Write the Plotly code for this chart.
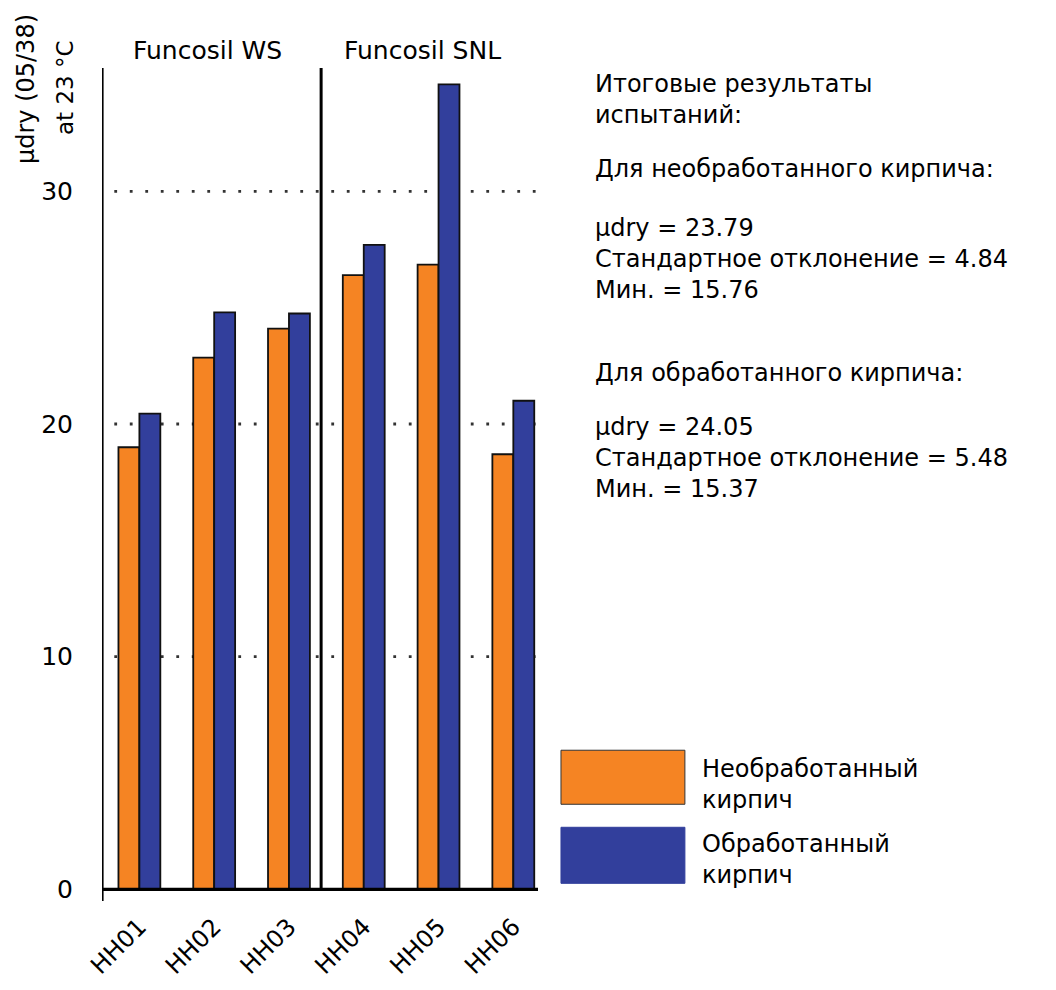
import plotly.graph_objects as go

# ---- data ----
samples = ["HH01", "HH02", "HH03", "HH04", "HH05", "HH06"]
untreated = [19.0, 22.85, 24.1, 26.4, 26.85, 18.7]
treated = [20.45, 24.8, 24.75, 27.7, 34.6, 21.0]
series_names = ["Необработанный<br>кирпич", "Обработанный<br>кирпич"]
y_ticks = [0, 10, 20, 30]
groups = ["Funcosil WS", "Funcosil SNL"]
summary_blocks = [
    ["Итоговые результаты", "испытаний:"],
    ["Для необработанного кирпича:"],
    ["μdry = 23.79", "Стандартное отклонение = 4.84", "Мин. = 15.76"],
    ["Для обработанного кирпича:"],
    ["μdry = 24.05", "Стандартное отклонение = 5.48", "Мин. = 15.37"],
]
summary_first_baselines = [93, 178, 237, 382, 435]

ORANGE = "#F58423"
BLUE = "#323F9C"
FONT = "DejaVu Sans"

OFF = 8  # page body margin
W_FIG, H_FIG = 1056 - OFF, 990 - OFF
X_RANGE = [-0.5, 5.33]
Y_RANGE = [-0.5, 35.3]
L, R = 101.7, 538.0          # page pixel positions of plot area
T = 68.3
PX_PER_UNIT = 23.25
B = T + (Y_RANGE[1] - Y_RANGE[0]) * PX_PER_UNIT


def pxx(px):
    return (px - L) / (R - L)


def pxy(py):
    return (B - py) / (B - T)


fig = go.Figure()
fig.add_trace(go.Bar(x=samples, y=untreated, name=series_names[0],
                     marker=dict(color=ORANGE, line=dict(color="#111", width=1.8)),
                     showlegend=False))
fig.add_trace(go.Bar(x=samples, y=treated, name=series_names[1],
                     marker=dict(color=BLUE, line=dict(color="#111", width=1.8)),
                     showlegend=False))

shapes = []
for v in y_ticks[1:]:
    shapes.append(dict(type="line", xref="x", yref="y", x0=-0.75, x1=5.33, y0=v, y1=v,
                       line=dict(color="#333", width=2.8, dash="2.8px,12.7px"), layer="below"))
shapes.append(dict(type="line", xref="x", yref="y", x0=-0.5, x1=-0.5, y0=Y_RANGE[0], y1=Y_RANGE[1],
                   line=dict(color="black", width=3.2)))
shapes.append(dict(type="line", xref="x", yref="y", x0=-0.635, x1=5.33, y0=0, y1=0,
                   line=dict(color="black", width=3.2)))
shapes.append(dict(type="line", xref="x", yref="y", x0=2.43, x1=2.43, y0=0, y1=Y_RANGE[1],
                   line=dict(color="black", width=3)))
shapes.append(dict(type="rect", xref="paper", yref="paper", x0=pxx(561), x1=pxx(685),
                   y0=pxy(804), y1=pxy(750), fillcolor=ORANGE, line=dict(color="#333", width=1)))
shapes.append(dict(type="rect", xref="paper", yref="paper", x0=pxx(561), x1=pxx(685),
                   y0=pxy(883), y1=pxy(827), fillcolor=BLUE, line=dict(color=BLUE, width=1)))

annotations = []
GF = 25
annotations.append(dict(text=groups[0], xref="paper", yref="paper", x=pxx(207), y=pxy(60 - 0.36 * GF),
                        showarrow=False, xanchor="center", yanchor="middle",
                        font=dict(family=FONT, size=GF, color="black")))
annotations.append(dict(text=groups[1], xref="paper", yref="paper", x=pxx(422), y=pxy(60 - 0.36 * GF),
                        showarrow=False, xanchor="center", yanchor="middle",
                        font=dict(family=FONT, size=GF, color="black")))
annotations.append(dict(text="μdry (05/38)", xref="paper", yref="paper", x=pxx(25), y=pxy(89),
                        showarrow=False, textangle=-90, xanchor="center", yanchor="middle",
                        font=dict(family=FONT, size=24, color="black")))
annotations.append(dict(text="at 23 °C", xref="paper", yref="paper", x=pxx(64), y=pxy(88),
                        showarrow=False, textangle=-90, xanchor="center", yanchor="middle",
                        font=dict(family=FONT, size=23, color="black")))

FS = 24
LH = 1.3 * FS
for lines, base in zip(summary_blocks, summary_first_baselines):
    n = len(lines)
    center = base + (n - 1) * LH / 2 - 0.36 * FS
    annotations.append(dict(text="<br>".join(lines), xref="paper", yref="paper", x=pxx(593),
                            y=pxy(center), showarrow=False, align="left",
                            xanchor="left", yanchor="middle",
                            font=dict(family=FONT, size=FS, color="black")))
for name, base in zip(series_names, [777, 852]):
    center = base + LH / 2 - 0.36 * FS
    annotations.append(dict(text=name, xref="paper", yref="paper", x=pxx(700),
                            y=pxy(center), showarrow=False, align="left",
                            xanchor="left", yanchor="middle",
                            font=dict(family=FONT, size=FS, color="black")))

fig.update_layout(
    width=W_FIG, height=H_FIG,
    margin=dict(l=L - OFF, r=W_FIG - (R - OFF), t=T - OFF, b=H_FIG - (B - OFF), pad=0,
                autoexpand=False),
    paper_bgcolor="white", plot_bgcolor="white",
    barmode="group", bargap=0.44, bargroupgap=0,
    shapes=shapes, annotations=annotations,
    font=dict(family=FONT, color="black"),
    xaxis=dict(range=X_RANGE, showgrid=False, showline=False, zeroline=False,
               tickangle=-45, tickfont=dict(family=FONT, size=24, color="black"),
               ticks="", ticklabelstandoff=6, automargin=False),
    yaxis=dict(range=Y_RANGE, tickvals=y_ticks, showgrid=False, showline=False,
               zeroline=False, ticks="", ticklabelstandoff=28, automargin=False,
               tickfont=dict(family=FONT, size=25, color="black")),
)

fig.write_html("out.html")
